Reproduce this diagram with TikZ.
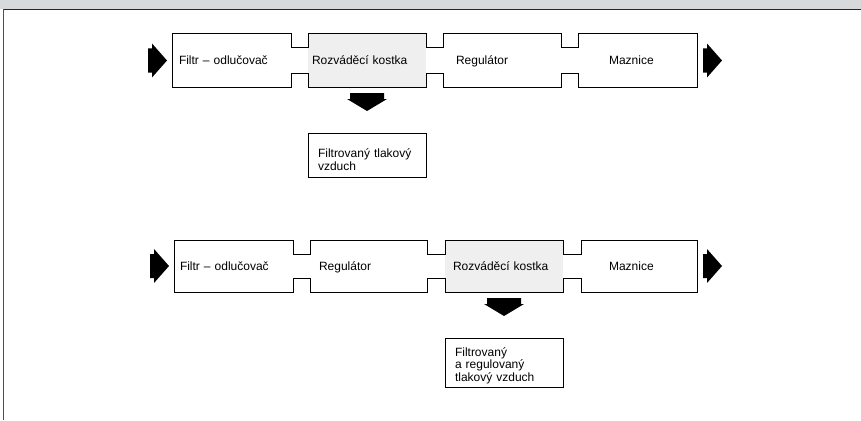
\documentclass[tikz,border=0pt]{standalone}
\usepackage{fontspec}
\setmainfont{Liberation Sans}
\usetikzlibrary{calc}
\definecolor{band}{HTML}{D8D9DB}
\definecolor{hilite}{HTML}{EFEFEF}
\definecolor{frameln}{HTML}{505050}
\tikzset{
  cbox/.style={inner sep=0pt, outer sep=0pt, align=left, minimum height=53pt, text height=9.5pt, text depth=1pt, font=\fontsize{12}{13}\selectfont},
  chain/.style={line width=1pt, line join=miter},
  resbox/.style={draw, line width=1pt, inner xsep=10pt, inner ysep=0pt, outer sep=0pt, text width=98pt, align=left, font=\fontsize{12}{12.6}\selectfont},
  blockarrow/.style={fill=black}
}
\begin{document}
\begin{tikzpicture}[x=1pt,y=-1pt]
\useasboundingbox (0,0) rectangle (861,420);
% frame
\fill[band] (0,0) rectangle (861,9.5);
\draw[line width=1.6pt, black!85] (3,9.5) -- (861,9.5);
\draw[line width=1.6pt, frameln] (3.5,9.5) -- (3.5,420);

% ---------- row 1 ----------
\node[cbox, text width=119pt] (r1a) at (231.5,60.5) {\hspace*{7pt}Filtr – odlučovač};
\node[cbox, text width=118pt, fill=hilite] (r1b) at (367,60.5) {\hspace*{4pt}Rozváděcí kostka};
\node[cbox, text width=118pt] (r1c) at (502,60.5) {\hspace*{13pt}Regulátor};
\node[cbox, text width=119pt] (r1d) at (637.5,60.5) {\hspace*{31pt}Maznice};
\draw[chain] (r1a.north west) -- (r1a.north east) -- ++(0,14) -| (r1b.north west)
  -- (r1b.north east) -- ++(0,14) -| (r1c.north west)
  -- (r1c.north east) -- ++(0,14) -| (r1d.north west)
  -- (r1d.north east) -- (r1d.south east) -- (r1d.south west) -- ++(0,-14) -| (r1c.south east)
  -- (r1c.south west) -- ++(0,-14) -| (r1b.south east)
  -- (r1b.south west) -- ++(0,-14) -| (r1a.south east)
  -- (r1a.south west) -- cycle;
% arrows row 1
\coordinate (r1in) at ($(r1a.west)+(-5,0)$);
\fill[blockarrow] (r1in) -- ++(-15,-17) -- ++(0,5) -- ++(-4,0) -- ++(0,24) -- ++(4,0) -- ++(0,5) -- cycle;
\coordinate (r1out) at ($(r1d.east)+(6,0)$);
\fill[blockarrow] (r1out) ++(0,-12) -- ++(4,0) -- ++(0,-5) -- ++(15,17) -- ++(-15,17) -- ++(0,-5) -- ++(-4,0) -- cycle;
\coordinate (r1down) at ($(r1b.south)+(0,6)$);
\fill[blockarrow] (r1down) ++(-17,0) -- ++(34,0) -- ++(0,6) -- ++(3,0) -- ++(-20,12) -- ++(-20,-12) -- ++(3,0) -- cycle;
\node[resbox, anchor=north west, minimum height=44pt] (res1) at (308,133) {\rule{0pt}{18pt}Filtrovaný tlakový\\vzduch};

% ---------- row 2 ----------
\node[cbox, text width=119pt, minimum height=52pt] (r2a) at (233.5,266) {\hspace*{6pt}Filtr – odlučovač};
\node[cbox, text width=117pt, minimum height=52pt] (r2b) at (368.5,266) {\hspace*{9pt}Regulátor};
\node[cbox, text width=118pt, minimum height=52pt, fill=hilite] (r2c) at (504,266) {\hspace*{8pt}Rozváděcí kostka};
\node[cbox, text width=116pt, minimum height=52pt] (r2d) at (639,266) {\hspace*{28pt}Maznice};
\draw[chain] (r2a.north west) -- (r2a.north east) -- ++(0,14) -| (r2b.north west)
  -- (r2b.north east) -- ++(0,14) -| (r2c.north west)
  -- (r2c.north east) -- ++(0,14) -| (r2d.north west)
  -- (r2d.north east) -- (r2d.south east) -- (r2d.south west) -- ++(0,-14) -| (r2c.south east)
  -- (r2c.south west) -- ++(0,-14) -| (r2b.south east)
  -- (r2b.south west) -- ++(0,-14) -| (r2a.south east)
  -- (r2a.south west) -- cycle;
\coordinate (r2in) at ($(r2a.west)+(-5,0)$);
\fill[blockarrow] (r2in) -- ++(-15,-17) -- ++(0,5) -- ++(-4,0) -- ++(0,24) -- ++(4,0) -- ++(0,5) -- cycle;
\coordinate (r2out) at ($(r2d.east)+(6,0)$);
\fill[blockarrow] (r2out) ++(0,-12) -- ++(4,0) -- ++(0,-5) -- ++(15,17) -- ++(-15,17) -- ++(0,-5) -- ++(-4,0) -- cycle;
\coordinate (r2down) at ($(r2c.south)+(0,6)$);
\fill[blockarrow] (r2down) ++(-17,0) -- ++(34,0) -- ++(0,6) -- ++(3,0) -- ++(-20,12) -- ++(-20,-12) -- ++(3,0) -- cycle;
\node[resbox, anchor=north west, minimum height=49pt] (res2) at (445,338) {\rule{0pt}{15pt}Filtrovaný\\a regulovaný\\tlakový vzduch};
\end{tikzpicture}
\end{document}
